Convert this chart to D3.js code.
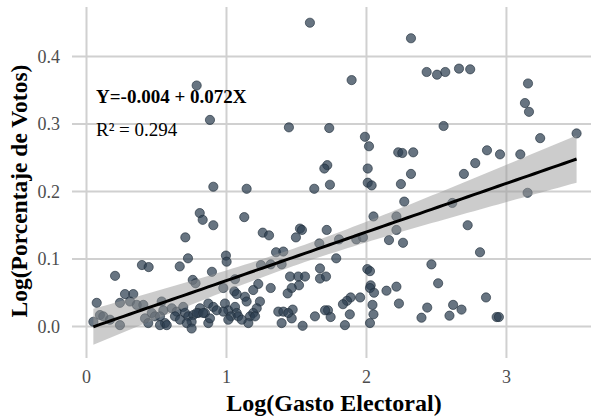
<!DOCTYPE html>
<html>
<head>
<meta charset="utf-8">
<script src="https://cdn.jsdelivr.net/npm/d3@7"></script>
<style>
  body { margin: 0; background: #fff; }
  svg { display: block; font-family: "Liberation Serif", "Times New Roman", serif; }
</style>
</head>
<body>
<script>
// Log(Gasto Electoral)
const gasto = [
  0.787, 0.882, 1.446, 0.906, 1.144, 1.596, 2.318, 1.894, 2.430, 2.504,
  2.563, 2.661, 2.741, 3.154, 3.132, 3.161, 1.734, 2.551, 1.989, 2.018,
  3.241, 3.501, 2.227, 2.256, 2.334, 2.861, 2.954, 3.099, 1.720, 1.699,
  2.009, 2.777, 2.318, 2.696, 1.739, 1.627, 2.009, 2.037, 2.246, 3.151,
  2.270, 2.613, 0.809, 0.830, 0.906, 1.127, 0.706, 0.725, 0.666, 0.396,
  0.444, 0.204, 0.759, 0.779, 1.259, 1.304, 1.496, 1.525, 1.539, 1.716,
  1.663, 1.354, 1.406, 0.996, 1.001, 1.246, 1.316, 1.394, 0.896, 1.061,
  1.454, 1.513, 1.561, 1.518, 1.668, 1.668, 1.711, 1.227, 1.191, 1.316,
  1.466, 1.437, 0.977, 2.050, 2.214, 2.214, 1.804, 1.927, 1.975, 2.161,
  2.261, 1.784, 2.006, 2.025, 2.464, 2.030, 2.025, 2.512, 2.143, 2.214,
  2.723, 2.811, 2.054, 1.955, 1.887, 1.861, 1.832, 2.043, 2.050, 2.025,
  2.232, 1.725, 1.744, 1.881, 1.846, 2.434, 2.393, 2.593, 2.619, 2.679,
  2.854, 2.930, 2.946, 1.473, 1.466, 1.544, 1.632, 1.704, 1.370, 1.406,
  1.441, 1.394, 1.239, 1.216, 1.191, 1.168, 1.204, 1.156, 1.132, 1.144,
  1.056, 1.073, 0.989, 1.013, 0.977, 1.061, 1.073, 1.032, 1.084, 1.013,
  1.109, 0.870, 0.906, 0.930, 0.811, 0.846, 0.799, 0.870, 0.882, 0.073,
  0.275, 0.334, 0.239, 0.311, 0.359, 0.406, 0.096, 0.120, 0.049, 0.168,
  0.239, 0.418, 0.441, 0.466, 0.489, 0.537, 0.549, 0.525, 0.561, 0.525,
  0.573, 0.609, 0.644, 0.691, 0.704, 0.632, 0.668, 0.727, 0.763, 0.751,
  0.787, 0.716, 0.751, 0.834
];
// Log(Porcentaje de Votos), same order
const votos = [
  0.357, 0.306, 0.295, 0.207, 0.204, 0.450, 0.427, 0.365, 0.377, 0.373,
  0.377, 0.382, 0.381, 0.360, 0.331, 0.318, 0.294, 0.297, 0.281, 0.267,
  0.279, 0.286, 0.258, 0.257, 0.258, 0.261, 0.255, 0.255, 0.239, 0.234,
  0.234, 0.242, 0.226, 0.226, 0.210, 0.204, 0.213, 0.209, 0.211, 0.198,
  0.185, 0.183, 0.168, 0.158, 0.150, 0.162, 0.132, 0.101, 0.089, 0.091,
  0.088, 0.075, 0.069, 0.064, 0.139, 0.135, 0.132, 0.145, 0.143, 0.143,
  0.123, 0.110, 0.111, 0.105, 0.096, 0.091, 0.092, 0.092, 0.081, 0.070,
  0.074, 0.074, 0.074, 0.061, 0.086, 0.071, 0.074, 0.063, 0.054, 0.057,
  0.057, 0.049, 0.057, 0.163, 0.163, 0.143, 0.129, 0.129, 0.132, 0.128,
  0.124, 0.101, 0.085, 0.082, 0.092, 0.061, 0.057, 0.064, 0.053, 0.059,
  0.150, 0.110, 0.050, 0.043, 0.043, 0.038, 0.033, 0.032, 0.018, 0.005,
  0.034, 0.024, 0.014, 0.018, 0.002, 0.028, 0.013, 0.016, 0.032, 0.025,
  0.043, 0.014, 0.014, 0.025, 0.012, 0.001, 0.015, 0.024, 0.022, 0.022,
  0.020, 0.005, 0.037, 0.027, 0.020, 0.015, 0.015, 0.005, 0.044, 0.037,
  0.052, 0.048, 0.034, 0.024, 0.022, 0.029, 0.020, 0.015, 0.015, 0.010,
  0.010, 0.034, 0.029, 0.024, 0.027, 0.020, 0.020, 0.005, 0.012, 0.035,
  0.048, 0.048, 0.035, 0.037, 0.032, 0.032, 0.017, 0.015, 0.007, 0.010,
  0.002, 0.012, 0.005, 0.020, 0.015, 0.037, 0.024, 0.015, 0.005, 0.002,
  0.002, 0.027, 0.022, 0.029, 0.020, 0.015, 0.010, 0.015, 0.017, 0.007,
  0.020, 0.005, -0.003, 0.020
];
const xTicks = [0, 1, 2, 3];
const yTicks = [0.0, 0.1, 0.2, 0.3, 0.4];
const intercept = -0.004, slope = 0.072;
const eqLabel = "Y=-0.004 + 0.072X";
const r2Label = "R² = 0.294";

const width = 591, height = 417;
const svg = d3.select("body").append("svg")
  .attr("width", width).attr("height", height);

const x = d3.scaleLinear().domain([-0.1036, 3.604]).range([72, 591]);
const y = d3.scaleLinear().domain([-0.0467, 0.4733]).range([358, 7]);

// grid
svg.append("g").selectAll("line").data(xTicks).join("line")
  .attr("x1", d => x(d)).attr("x2", d => x(d))
  .attr("y1", y.range()[0]).attr("y2", y.range()[1])
  .attr("stroke", "#d0d0d0").attr("stroke-width", 2);
svg.append("g").selectAll("line").data(yTicks).join("line")
  .attr("y1", d => y(d)).attr("y2", d => y(d))
  .attr("x1", x.range()[0]).attr("x2", x.range()[1])
  .attr("stroke", "#d0d0d0").attr("stroke-width", 2);

// tick labels
svg.append("g").selectAll("text").data(xTicks).join("text")
  .attr("x", d => x(d)).attr("y", 383)
  .attr("text-anchor", "middle")
  .attr("font-size", 18).attr("fill", "#4d4d4d")
  .text(d => d);
svg.append("g").selectAll("text").data(yTicks).join("text")
  .attr("x", 60).attr("y", d => y(d) + 6.5)
  .attr("text-anchor", "end")
  .attr("font-size", 18).attr("fill", "#4d4d4d")
  .text(d => d3.format(".1f")(d));

// points
const pts = gasto.map((g, i) => ({x: g, y: votos[i]}));
svg.append("g").selectAll("circle").data(pts).join("circle")
  .attr("cx", d => x(d.x)).attr("cy", d => y(d.y))
  .attr("r", 4.6)
  .attr("fill", "#2c3e50").attr("fill-opacity", 0.72)
  .attr("stroke", "#1f2d3a").attr("stroke-opacity", 0.8).attr("stroke-width", 0.8);

// confidence band around the fitted line
const n = pts.length,
      xbar = d3.mean(gasto),
      sxx = d3.sum(gasto, g => (g - xbar) ** 2),
      s = Math.sqrt(d3.sum(pts, p => (p.y - intercept - slope * p.x) ** 2) / (n - 2)),
      t = 1.97;
const [xmin, xmax] = d3.extent(gasto);
const grid = d3.range(0, 81).map(i => xmin + (xmax - xmin) * i / 80)
  .map(g => {
    const fit = intercept + slope * g,
          se = s * Math.sqrt(1 / n + (g - xbar) ** 2 / sxx);
    return {x: g, fit: fit, lo: fit - t * se, hi: fit + t * se};
  });
svg.append("path")
  .attr("d", d3.area().x(d => x(d.x)).y0(d => y(d.lo)).y1(d => y(d.hi))(grid))
  .attr("fill", "#999").attr("fill-opacity", 0.5);
svg.append("path")
  .attr("d", d3.line().x(d => x(d.x)).y(d => y(d.fit))(grid))
  .attr("fill", "none").attr("stroke", "#000").attr("stroke-width", 3);

// equation
svg.append("text").attr("x", 96).attr("y", 103)
  .attr("font-size", 19).attr("font-weight", "bold").text(eqLabel);
svg.append("text").attr("x", 96).attr("y", 136)
  .attr("font-size", 19).text(r2Label);

// axis titles
svg.append("text").attr("x", 334).attr("y", 411)
  .attr("text-anchor", "middle").attr("font-size", 24).attr("font-weight", "bold")
  .text("Log(Gasto Electoral)");
svg.append("text").attr("transform", "translate(27,191) rotate(-90)")
  .attr("text-anchor", "middle").attr("font-size", 23.5).attr("font-weight", "bold")
  .text("Log(Porcentaje de Votos)");
</script>
</body>
</html>
